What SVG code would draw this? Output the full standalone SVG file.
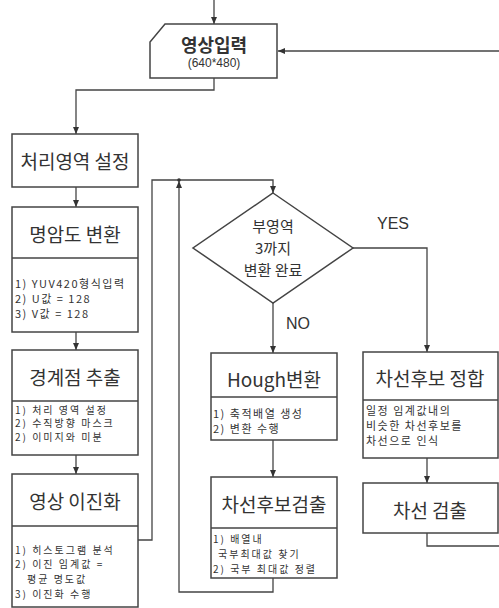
<svg xmlns="http://www.w3.org/2000/svg" width="499" height="608" viewBox="0 0 499 608">
<style>
.box{fill:#fff;stroke:#444;stroke-width:1.5}
.ln{fill:none;stroke:#444;stroke-width:1.3}
.t{font-family:"Noto Sans CJK KR","Noto Sans",sans-serif;fill:#333;font-size:19px;text-anchor:middle;dominant-baseline:central}
.s{font-family:"Noto Sans CJK KR","Noto Sans",sans-serif;fill:#333;font-size:11px;letter-spacing:1.5px;dominant-baseline:central}
.s2{font-size:10px;letter-spacing:2px}
.l{font-family:"Liberation Sans",Arial,sans-serif;fill:#333;font-size:16px;dominant-baseline:central}
</style>
<defs>
<marker id="a" markerWidth="8" markerHeight="8" refX="7" refY="4" orient="auto" markerUnits="userSpaceOnUse">
<path d="M0,1 L7,4 L0,7 Z" fill="#333"/>
</marker>
</defs>
<g id="connectors">
<path class="ln" d="M214,0 V24" marker-end="url(#a)"/>
<path class="ln" d="M499,51 H278" marker-end="url(#a)"/>
<path class="ln" d="M214,78 V90 H76 V134" marker-end="url(#a)"/>
<path class="ln" d="M76,187 V207" marker-end="url(#a)"/>
<path class="ln" d="M76,332 V350" marker-end="url(#a)"/>
<path class="ln" d="M76,455 V474" marker-end="url(#a)"/>
<path class="ln" d="M138,540 H152 V180 H273 V193" marker-end="url(#a)"/>
<path class="ln" d="M273,578 V592 H179 V181" marker-end="url(#a)"/>
<circle cx="179" cy="180" r="1.8" fill="#333"/>
<path class="ln" d="M273,303 V353" marker-end="url(#a)"/>
<path class="ln" d="M353,248 H427 V352" marker-end="url(#a)"/>
<path class="ln" d="M273,440 V477" marker-end="url(#a)"/>
<path class="ln" d="M427,458 V483" marker-end="url(#a)"/>
<path class="ln" d="M427,533 V546 H499"/>
</g>
<g id="input">
<path class="box" d="M165,24 H277 V78 H150 V42 Z"/>
<text class="t" x="214" y="44" style="font-size:18px;font-weight:bold">영상입력</text>
<text class="t" x="214" y="63" style="font-size:12px;font-family:'Liberation Sans',Arial,sans-serif">(640*480)</text>
</g>
<g id="region">
<rect class="box" x="12" y="134" width="126" height="53"/>
<text class="t" x="75" y="160">처리영역 설정</text>
</g>
<g id="gray">
<rect class="box" x="12" y="207" width="126" height="125"/>
<line class="box" x1="12" y1="258" x2="138" y2="258"/>
<text class="t" x="75" y="233">명암도 변환</text>
<text class="s" x="15" y="283">1) YUV420형식입력</text>
<text class="s" x="15" y="298">2) U값 = 128</text>
<text class="s" x="15" y="313">3) V값 = 128</text>
</g>
<g id="edge">
<rect class="box" x="12" y="350" width="126" height="105"/>
<line class="box" x1="12" y1="401" x2="138" y2="401"/>
<text class="t" x="75" y="376">경계점 추출</text>
<text class="s s2" x="15" y="409">1) 처리 영역 설정</text>
<text class="s s2" x="15" y="422.5">2) 수직방향 마스크</text>
<text class="s s2" x="15" y="436">2) 이미지와 미분</text>
</g>
<g id="binary">
<rect class="box" x="12" y="474" width="126" height="133"/>
<line class="box" x1="12" y1="526" x2="138" y2="526"/>
<text class="t" x="75" y="500">영상 이진화</text>
<text class="s s2" x="15" y="549">1) 히스토그램 분석</text>
<text class="s s2" x="15" y="563.5">2) 이진 임계값 =</text>
<text class="s s2" x="27" y="578">평균 명도값</text>
<text class="s s2" x="15" y="593">3) 이진화 수행</text>
</g>
<g id="decision">
<polygon class="box" points="273,193 353,248 273,303 193,248"/>
<text class="t" x="273" y="225" style="font-size:15px">부영역</text>
<text class="t" x="273" y="247" style="font-size:15px">3까지</text>
<text class="t" x="273" y="269" style="font-size:15px">변환 완료</text>
<text class="l" x="377" y="223">YES</text>
<text class="l" x="286" y="323">NO</text>
</g>
<g id="hough">
<rect class="box" x="211" y="353" width="126" height="87"/>
<line class="box" x1="211" y1="397" x2="337" y2="397"/>
<text class="t" x="274" y="378">Hough변환</text>
<text class="s" x="213" y="413">1) 축적배열 생성</text>
<text class="s" x="213" y="428">2) 변환 수행</text>
</g>
<g id="candidate">
<rect class="box" x="211" y="477" width="126" height="101"/>
<line class="box" x1="211" y1="528" x2="337" y2="528"/>
<text class="t" x="274" y="503">차선후보검출</text>
<text class="s s2" x="213" y="538">1) 배열내</text>
<text class="s s2" x="218" y="553">국부최대값 찾기</text>
<text class="s s2" x="213" y="568">2) 국부 최대값 정렬</text>
</g>
<g id="match">
<rect class="box" x="363" y="352" width="135" height="106"/>
<line class="box" x1="363" y1="400" x2="498" y2="400"/>
<text class="t" x="430" y="377">차선후보 정합</text>
<text class="s" x="366" y="410">일정 임계값내의</text>
<text class="s" x="366" y="425">비슷한 차선후보를</text>
<text class="s" x="366" y="440">차선으로 인식</text>
</g>
<g id="lane">
<rect class="box" x="363" y="483" width="135" height="50"/>
<text class="t" x="430" y="509">차선 검출</text>
</g>
</svg>
